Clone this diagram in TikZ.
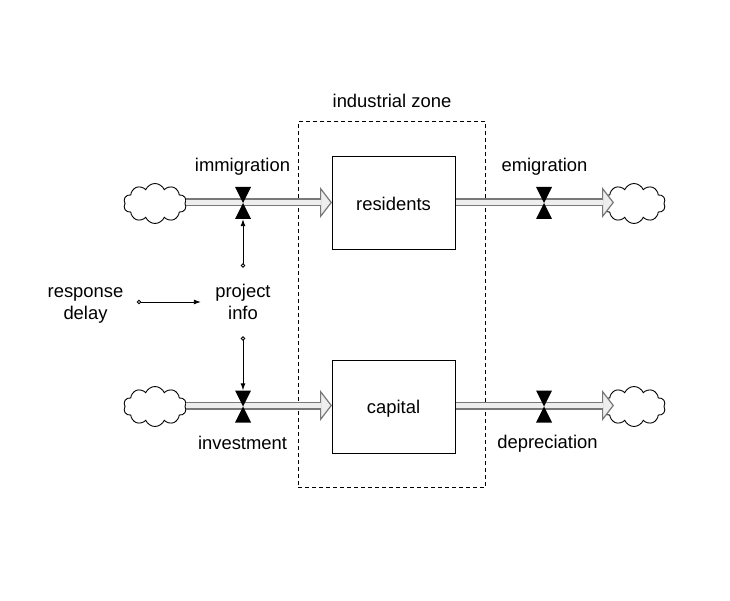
\documentclass[tikz,border=0pt]{standalone}
\usepackage{fontspec}
\setmainfont{Liberation Sans}
\usetikzlibrary{arrows.meta,shapes.symbols}
\definecolor{pipeedge}{HTML}{787878}
\definecolor{pipefill}{HTML}{EEEEEE}
\tikzset{
  x=1pt,y=-1pt,
  lbl/.style={inner sep=0pt,align=center,font=\fontsize{18.4}{22}\selectfont},
  stock/.style={draw=black,line width=1pt,minimum width=123.5pt,minimum height=93pt,inner sep=0pt},
  zone/.style={draw=black,line width=1pt,dash pattern=on 4pt off 3pt,minimum width=187.5pt,minimum height=365pt,inner sep=0pt},
  sky/.style={cloud,cloud puffs=10,cloud puff arc=135,aspect=1.6,draw=black,fill=white,line width=.9pt,minimum width=63pt,minimum height=40pt,inner sep=0pt},
  valve/.style={minimum width=16pt,minimum height=32pt,inner sep=0pt,
    path picture={\fill[black] (path picture bounding box.north west)--(path picture bounding box.north east)--(path picture bounding box.south west)--(path picture bounding box.south east)--cycle;}},
  pipe/.style={line width=8pt,draw=pipeedge,
    -{Triangle[length=12pt,width=31pt,line width=1.2pt,color=pipeedge,fill=pipefill]},
    postaction={draw=pipefill,line width=4.5pt,-,shorten >=11pt,yshift=.5pt}},
  info/.style={line width=.9pt,{Circle[open,length=4.5pt,width=4.5pt,fill=white]}-{Latex[length=7pt,width=5pt]}},
}
\begin{document}
\begin{tikzpicture}
\useasboundingbox[fill=white] (0,0) rectangle (730,601);
\node[zone] (zonebox) at (392,304.5) {};
\node[lbl] (zonelabel) at (392,100.5) {industrial zone};
\node[sky] (cloudA) at (155,203.5) {};
\node[sky] (cloudB) at (155,406.5) {};
\node[sky] (cloudC) at (634,203.5) {};
\node[sky] (cloudD) at (634,406.5) {};
\coordinate (tipC) at (614,202.5);
\coordinate (tipD) at (614,405.5);
\coordinate (startA) at (186,202.5);
\coordinate (startB) at (186,405.5);
\coordinate (endA) at (332,202.5);
\coordinate (endB) at (332,405.5);
\coordinate (startC) at (456,202.5);
\coordinate (startD) at (456,405.5);
\draw[pipe] (startA) -- (endA);
\draw[pipe] (startB) -- (endB);
\draw[pipe] (startC) -- (tipC);
\draw[pipe] (startD) -- (tipD);
\node[stock,fill=none] (residents) at (393.8,203) {};
\node[stock,fill=none] (capital) at (393.8,406.5) {};
\node[lbl] (residentslabel) at (393.5,204) {residents};
\node[lbl] (capitallabel) at (393.5,408.5) {capital};
\node[valve] (valveA) at (243,203) {};
\node[valve] (valveB) at (243,406.5) {};
\node[valve] (valveC) at (544,203) {};
\node[valve] (valveD) at (544,406.5) {};
\node[lbl] (immigration) at (242.5,166.5) {immigration};
\node[lbl] (emigration) at (544.5,166.5) {emigration};
\node[lbl] (investment) at (242.5,442.5) {investment};
\node[lbl] (depreciation) at (547.5,444) {depreciation};
\node[lbl,minimum width=84pt,minimum height=68pt] (project) at (243,302) {project\\info};
\node[lbl,minimum width=102pt,minimum height=44pt] (delay) at (85.5,302) {};
\node[lbl] (delaytext) at (85.5,305) {response\\delay};
\draw[info] (project.north) -- (valveA.south);
\draw[info] (project.south) -- (valveB.north);
\draw[info] (delay.east) -- (project.west);
\end{tikzpicture}
\end{document}
